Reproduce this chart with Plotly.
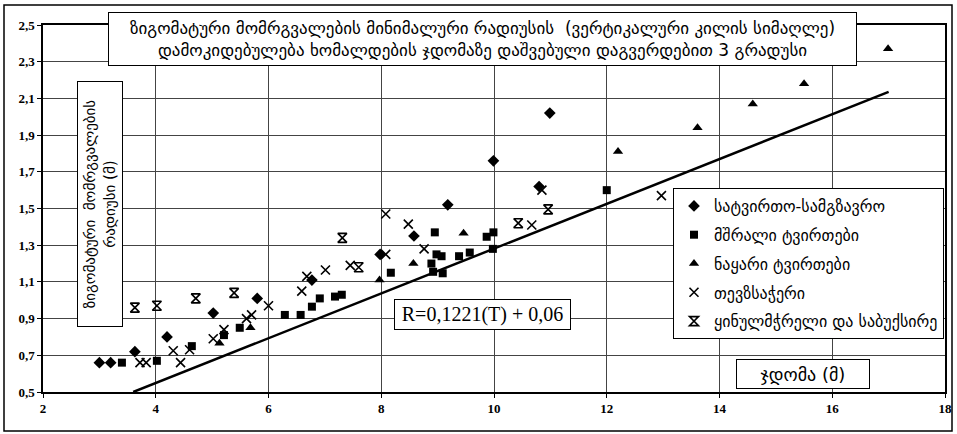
import plotly.graph_objects as go

# ---- data ----
cargo_pass_t = [3.0, 3.2, 3.63, 4.2, 5.02, 5.8, 6.77, 7.98, 8.58, 9.18, 9.99, 10.8, 10.99]
cargo_pass_r = [0.66, 0.66, 0.72, 0.80, 0.93, 1.01, 1.11, 1.25, 1.35, 1.52, 1.76, 1.62, 2.02]

dry_t = [3.4, 4.02, 4.64, 5.21, 5.49, 6.29, 6.57, 6.77, 6.91, 7.18, 7.3, 8.17, 8.89, 8.92, 8.95,
         8.98, 9.07, 9.09, 9.38, 9.57, 9.87, 9.98, 9.99, 12.0]
dry_r = [0.66, 0.67, 0.75, 0.81, 0.85, 0.92, 0.92, 0.965, 1.01, 1.02, 1.03, 1.15, 1.20, 1.155, 1.37,
         1.25, 1.24, 1.147, 1.24, 1.26, 1.346, 1.28, 1.37, 1.60]

bulk_t = [5.13, 5.68, 7.97, 8.57, 9.46, 12.2, 13.61, 14.59, 15.5, 16.99]
bulk_r = [0.765, 0.85, 1.11, 1.20, 1.365, 1.81, 1.94, 2.07, 2.18, 2.37]

fish_t = [3.72, 3.83, 4.31, 4.44, 4.6, 5.02, 5.21, 5.61, 5.70, 6.0, 6.59, 6.68, 7.01, 7.45, 8.08,
          8.08, 8.48, 8.76, 10.67, 10.85, 12.97]
fish_r = [0.66, 0.66, 0.725, 0.66, 0.73, 0.79, 0.84, 0.90, 0.92, 0.97, 1.05, 1.13, 1.165, 1.19, 1.25,
          1.47, 1.415, 1.28, 1.41, 1.60, 1.57]

ice_t = [3.63, 4.02, 4.71, 5.39, 7.31, 7.6, 10.43, 10.96]
ice_r = [0.96, 0.97, 1.01, 1.04, 1.34, 1.18, 1.42, 1.495]

trend_t = [3.6, 17.0]
trend_r = [0.50, 2.136]

x_ticks = [2, 4, 6, 8, 10, 12, 14, 16, 18]
y_ticks = [0.5, 0.7, 0.9, 1.1, 1.3, 1.5, 1.7, 1.9, 2.1, 2.3, 2.5]

names = ["სატვირთო-სამგზავრო", "მშრალი ტვირთები", "ნაყარი ტვირთები",
         "თევზსაჭერი", "ყინულმჭრელი და საბუქსირე"]

title_text = ("ზიგომატური მომრგვალების მინიმალური რადიუსის  (ვერტიკალური კილის სიმაღლე)<br>"
              "დამოკიდებულება ხომალდების ჯდომაზე დაშვებული დაგვერდებით 3 გრადუსი")
ylabel_text = "ზიგომატური  მომრგვალების<br>რადიუსი (მ)"
xlabel_text = "ჯდომა (მ)"
eq_text = "R=0,1221(T) + 0,06"

# ---- layout geometry (pixels) ----
W, H = 957, 434
L, R, T, B = 43, 945, 25, 392
PW, PH = R - L, B - T


def px(xp):
    return (xp - L) / PW


def py(yp):
    return (B - yp) / PH


GEO = "DejaVu Sans"
SERIF = "Liberation Serif"

fig = go.Figure()

fig.add_trace(go.Scatter(x=trend_t, y=trend_r, mode="lines", line=dict(color="black", width=2.5),
                         showlegend=False, hoverinfo="skip"))

series = [
    (cargo_pass_t, cargo_pass_r, dict(symbol="diamond", size=9, color="black")),
    (dry_t, dry_r, dict(symbol="square", size=8, color="black")),
    (bulk_t, bulk_r, dict(symbol="triangle-up", size=9, color="black")),
    (fish_t, fish_r, dict(symbol="x-thin-open", size=9, color="black",
                          line=dict(color="black", width=1.6))),
    (ice_t, ice_r, dict(symbol="hourglass-open", size=9, color="black",
                        line=dict(color="black", width=1.6))),
]
for i, (xs, ys, mk) in enumerate(series):
    fig.add_trace(go.Scatter(x=xs, y=ys, mode="markers", name=names[i], legendgroup=f"g{i}",
                             marker=mk))

axis_common = dict(showgrid=True, gridcolor="#444444", gridwidth=1, showline=True,
                   linecolor="black", linewidth=1.5, mirror=True, ticks="outside",
                   ticklen=4, tickcolor="black", zeroline=False, automargin=False,
                   tickfont=dict(family=SERIF, size=13, color="black", weight="bold"))

fig.update_xaxes(range=[2, 18], tickvals=x_ticks, **axis_common)
fig.update_yaxes(range=[0.5, 2.5], tickvals=y_ticks, tickformat=".1f", **axis_common)

annotations = [
    dict(text=title_text, x=px((108 + 857) / 2), y=py((12 + 66) / 2), xref="paper", yref="paper",
         xanchor="center", yanchor="middle", showarrow=False, width=747, height=52,
         bgcolor="white", bordercolor="black", borderwidth=1, borderpad=0,
         font=dict(family=GEO, size=17, color="black")),
    dict(text=ylabel_text, x=px(100), y=py(204), xref="paper", yref="paper", textangle=-90,
         xanchor="center", yanchor="middle", showarrow=False, width=244, height=44,
         bgcolor="white", bordercolor="black", borderwidth=1, borderpad=0,
         font=dict(family=GEO, size=15, color="black")),
    dict(text=eq_text, x=px(482.5), y=py(314.5), xref="paper", yref="paper",
         xanchor="center", yanchor="middle", showarrow=False, width=175, height=29,
         bgcolor="white", bordercolor="black", borderwidth=1, borderpad=0,
         font=dict(family=SERIF, size=20, color="black")),
    dict(text=xlabel_text, x=px(803), y=py(374), xref="paper", yref="paper",
         xanchor="center", yanchor="middle", showarrow=False, width=132, height=28,
         bgcolor="white", bordercolor="black", borderwidth=1, borderpad=0,
         font=dict(family=GEO, size=18, color="black")),
]

fig.add_shape(type="rect", xref="paper", yref="paper", x0=px(4), x1=px(952), y0=py(431), y1=py(5),
              line=dict(color="black", width=1.5), fillcolor="rgba(0,0,0,0)", layer="below")

fig.update_layout(
    width=W, height=H, autosize=False,
    margin=dict(l=L, r=W - R, t=T, b=H - B, autoexpand=False),
    paper_bgcolor="white", plot_bgcolor="white",
    separators=",.",
    annotations=annotations,
    legend=dict(x=px(673), y=py(188), xanchor="left", yanchor="top",
                bgcolor="white", bordercolor="black", borderwidth=1,
                font=dict(family=GEO, size=16, color="black"),
                itemwidth=30, tracegroupgap=5),
    showlegend=True,
)

fig.write_html("out.html")
